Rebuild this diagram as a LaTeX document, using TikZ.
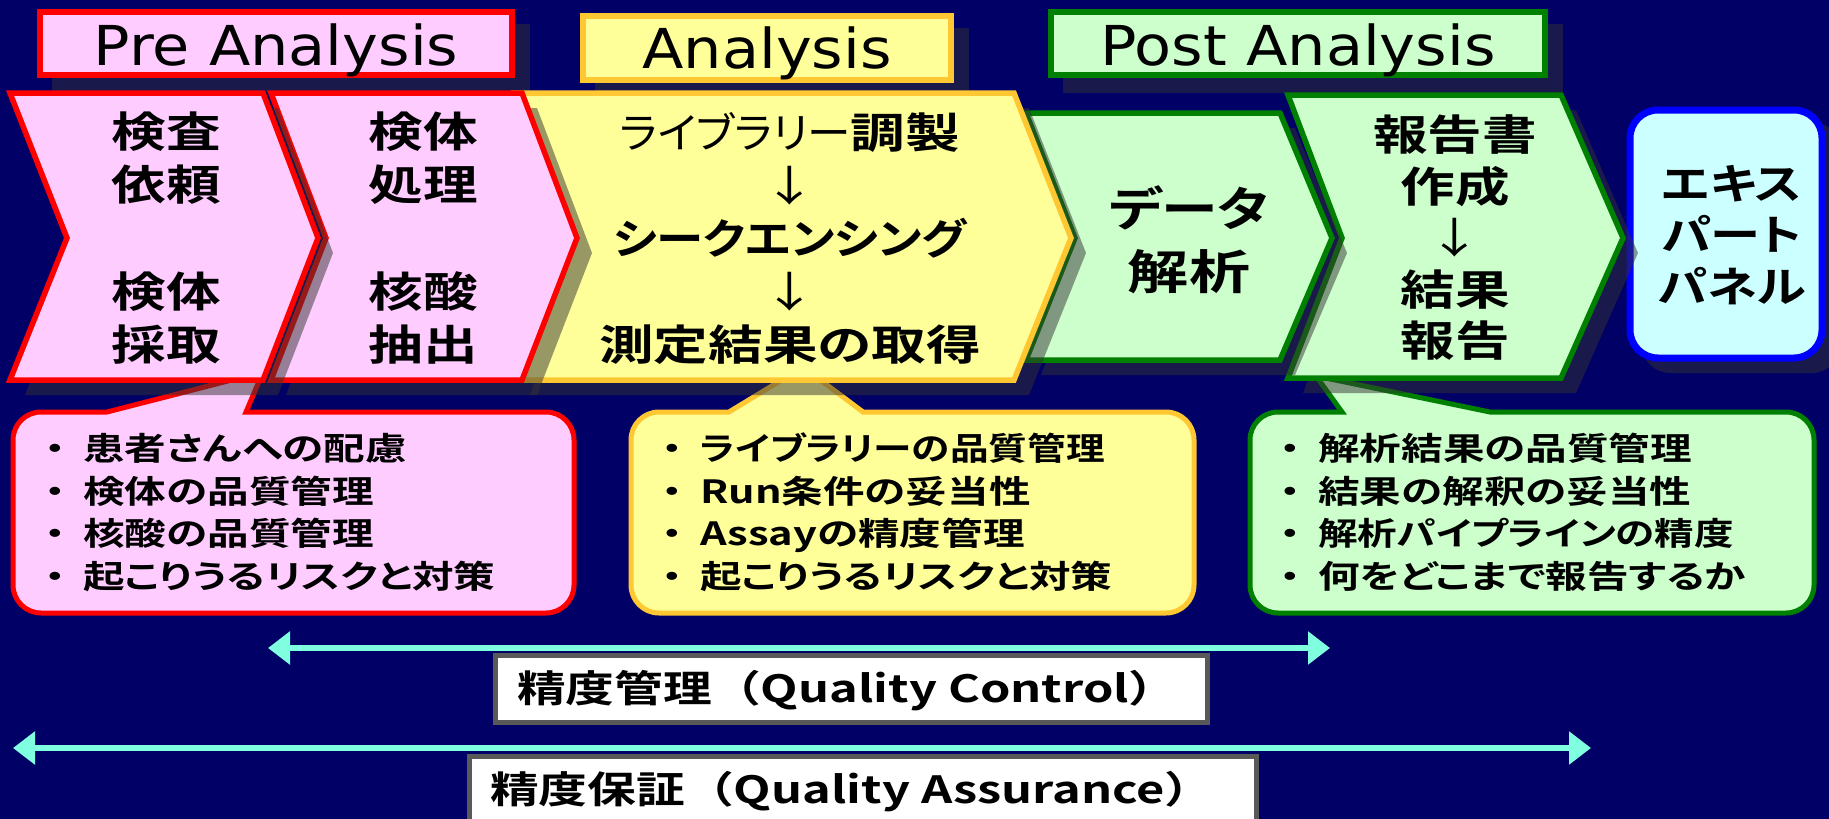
\documentclass[tikz,border=0pt]{standalone}
\usepackage{fontspec}
\usepackage{graphicx}
\usetikzlibrary{arrows.meta}
\newfontfamily\jp[FakeStretch=1.3,RawFeature=+palt,BoldFont={Noto Sans CJK JP Bold}]{Noto Sans CJK JP}
\newfontfamily\jpn[FakeStretch=1.3,BoldFont={Noto Sans CJK JP Bold}]{Noto Sans CJK JP}
\newfontfamily\lat[FakeStretch=1.1]{DejaVu Sans}
\definecolor{bg}{HTML}{000066}
\definecolor{pinkf}{HTML}{FFCCFF}
\definecolor{redb}{HTML}{FF0000}
\definecolor{yelf}{HTML}{FFFF99}
\definecolor{yelb}{HTML}{FFC832}
\definecolor{grnf}{HTML}{CCFFCC}
\definecolor{grnb}{HTML}{008000}
\definecolor{cyanf}{HTML}{CCFFFF}
\definecolor{blueb}{HTML}{0000FF}
\definecolor{aqua}{HTML}{80FFE0}
\definecolor{grayb}{HTML}{595959}
\definecolor{shd}{HTML}{333333}
\tikzset{
  shadowfill/.style={fill=shd, fill opacity=0.5, draw=none},
  pinkshape/.style={fill=pinkf, draw=redb, line width=5.5pt},
  yelshape/.style={fill=yelf, draw=yelb, line width=5.5pt},
  grnshape/.style={fill=grnf, draw=grnb, line width=5.5pt},
  expshape/.style={fill=cyanf, draw=blueb, line width=7pt, rounded corners=28pt},
  hdrtxt/.style={font=\lat\fontsize{55}{60}\selectfont, anchor=base, inner sep=0pt, text=black},
  chtxt/.style={font=\jp\bfseries\fontsize{42}{53}\selectfont, align=center, inner sep=0pt, text=black},
  cltxt/.style={font=\jp\bfseries\fontsize{32}{40}\selectfont, anchor=west, inner sep=0pt, text height=27pt, text depth=5pt, text=black},
  qtxt/.style={font=\jpn\bfseries\fontsize{37.5}{40}\selectfont, anchor=west, inner sep=0pt, text height=31pt, text depth=5pt, text=black},
  lblbox/.style={fill=white, draw=grayb, line width=5pt},
  dblarrow/.style={draw=aqua, line width=6pt, {Triangle[length=22pt,width=32pt]}-{Triangle[length=22pt,width=32pt]}},
  calloutpink/.style={fill=pinkf, draw=redb, line width=5pt},
  calloutyel/.style={fill=yelf, draw=yelb, line width=5pt},
  calloutgrn/.style={fill=grnf, draw=grnb, line width=5pt},
}
% callout: #1 style, #2 x0, #3 y0, #4 x1, #5 y1, #6 base1, #7 base2, #8 apex
\newcommand{\mycallout}[8]{%
  \draw[#1] (#2,#3+28) arc[start angle=180,end angle=270,radius=28] -- (#6,#3) -- #8 -- (#7,#3)
    -- (#4-28,#3) arc[start angle=270,end angle=360,radius=28]
    -- (#4,#5-28) arc[start angle=0,end angle=90,radius=28]
    -- (#2+28,#5) arc[start angle=90,end angle=180,radius=28] -- cycle;}
\begin{document}
\begin{tikzpicture}[x=1pt,y=-1pt]
\useasboundingbox (0,0) rectangle (1829,819);
\fill[bg] (0,0) rectangle (1829,819);

% header boxes
\fill[shadowfill] (52,24) rectangle (530,93);
\draw[fill=pinkf, draw=redb, line width=6pt] (40,12) rectangle (512,75);
\fill[shadowfill] (595,28) rectangle (969,98);
\draw[fill=yelf, draw=yelb, line width=6pt] (583,16) rectangle (951,80);
\fill[shadowfill] (1063,24) rectangle (1563,93);
\draw[fill=grnf, draw=grnb, line width=6pt] (1051,12) rectangle (1545,75);
\node[hdrtxt] (hpre) at (276,65) {Pre Analysis};
\node[hdrtxt] (hana) at (767,68) {Analysis};
\node[hdrtxt] (hpost) at (1298,65) {Post Analysis};

% arrows and labels
\coordinate (qcL) at (268,648);
\coordinate (qcR) at (1330,648);
\coordinate (qaL) at (13,748);
\coordinate (qaR) at (1591,748);
\draw[dblarrow] (qcL) -- (qcR);
\draw[dblarrow] (qaL) -- (qaR);
\draw[lblbox] (495,655) rectangle (1207,722);
\draw[lblbox] (469,756) rectangle (1256,840);
\node[qtxt] (qc) at (517,689) {精度管理（Quality Control）};
\node[qtxt] (qa) at (490,790) {精度保証（Quality Assurance）};

% callouts
\mycallout{calloutpink}{13}{412}{574}{613}{107}{246}{(263,372)}
\mycallout{calloutyel}{631}{412}{1194}{613}{729}{863}{(803,367)}
\mycallout{calloutgrn}{1250}{412}{1814}{613}{1342}{1490}{(1316,376)}

% expert panel
\fill[shadowfill, rounded corners=28pt] (1642,122) rectangle (1840,373);
\draw[expshape] (1630,110) rectangle (1822,358);

% chevrons (right to left)
\fill[shadowfill] (1303,110) -- (1576,110) -- (1638,253) -- (1576,393) -- (1303,393) -- (1357,253) -- cycle;
\draw[grnshape] (1288,95) -- (1561,95) -- (1623,238) -- (1561,378) -- (1288,378) -- (1342,238) -- cycle;
\fill[shadowfill] (1041,128) -- (1295,128) -- (1347,253) -- (1295,375) -- (1041,375) -- (1090,253) -- cycle;
\draw[grnshape] (1026,113) -- (1280,113) -- (1332,238) -- (1280,360) -- (1026,360) -- (1075,238) -- cycle;
\fill[shadowfill] (530,108) -- (1029,108) -- (1086,253) -- (1029,395) -- (530,395) -- (585,253) -- cycle;
\draw[yelshape] (515,93) -- (1014,93) -- (1071,238) -- (1014,380) -- (515,380) -- (570,238) -- cycle;
\fill[shadowfill] (286,108) -- (537,108) -- (592,253) -- (537,395) -- (286,395) -- (341,253) -- cycle;
\draw[pinkshape] (271,93) -- (522,93) -- (577,238) -- (522,380) -- (271,380) -- (326,238) -- cycle;
\fill[shadowfill] (25,108) -- (278,108) -- (333,253) -- (278,395) -- (25,395) -- (82,253) -- cycle;
\draw[pinkshape] (10,93) -- (263,93) -- (318,238) -- (263,380) -- (10,380) -- (67,238) -- cycle;

% chevron texts
\node[chtxt] (c1a) at (166,158) {検査\\依頼};
\node[chtxt] (c1b) at (166,318) {検体\\採取};
\node[chtxt] (c2a) at (423,158) {検体\\処理};
\node[chtxt] (c2b) at (423,318) {核酸\\抽出};
\node[chtxt] (c3) at (790,239) {\scalebox{0.8}[1]{\mdseries ライブラリー}調製\\{\mdseries ↓}\\\scalebox{0.87}[1]{シークエンシング}\\{\mdseries ↓}\\測定結果の取得};
\node[chtxt, font=\jp\bfseries\fontsize{47}{63}\selectfont] (c4) at (1189,240) {\scalebox{0.93}[1]{データ}\\解析};
\node[chtxt, font=\jp\bfseries\fontsize{42}{51.5}\selectfont] (c5) at (1455,238) {報告書\\作成\\{\mdseries ↓}\\結果\\報告};
\node[chtxt, font=\jp\bfseries\fontsize{42}{51.5}\selectfont] (c6) at (1732,235) {\scalebox{0.92}[1]{エキス}\\\scalebox{0.92}[1]{パート}\\\scalebox{0.92}[1]{パネル}};

% callout texts
\node[cltxt] (p1) at (27,449) {\makebox[56pt][c]{・}患者さんへの配慮};
\node[cltxt] (p2) at (27,492) {\makebox[56pt][c]{・}検体の品質管理};
\node[cltxt] (p3) at (27,534) {\makebox[56pt][c]{・}核酸の品質管理};
\node[cltxt] (p4) at (27,577) {\makebox[56pt][c]{・}起こりうるリスクと対策};
\node[cltxt] (y1) at (644,449) {\makebox[56pt][c]{・}\scalebox{0.93}[1]{ライブラリーの品質管理}};
\node[cltxt] (y2) at (644,492) {\makebox[56pt][c]{・}Run条件の妥当性};
\node[cltxt] (y3) at (644,534) {\makebox[56pt][c]{・}Assayの精度管理};
\node[cltxt] (y4) at (644,577) {\makebox[56pt][c]{・}起こりうるリスクと対策};
\node[cltxt] (g1) at (1262,449) {\makebox[56pt][c]{・}解析結果の品質管理};
\node[cltxt] (g2) at (1262,492) {\makebox[56pt][c]{・}結果の解釈の妥当性};
\node[cltxt] (g3) at (1262,534) {\makebox[56pt][c]{・}\scalebox{0.95}[1]{解析パイプラインの精度}};
\node[cltxt] (g4) at (1262,577) {\makebox[56pt][c]{・}何をどこまで報告するか};
\end{tikzpicture}
\end{document}
